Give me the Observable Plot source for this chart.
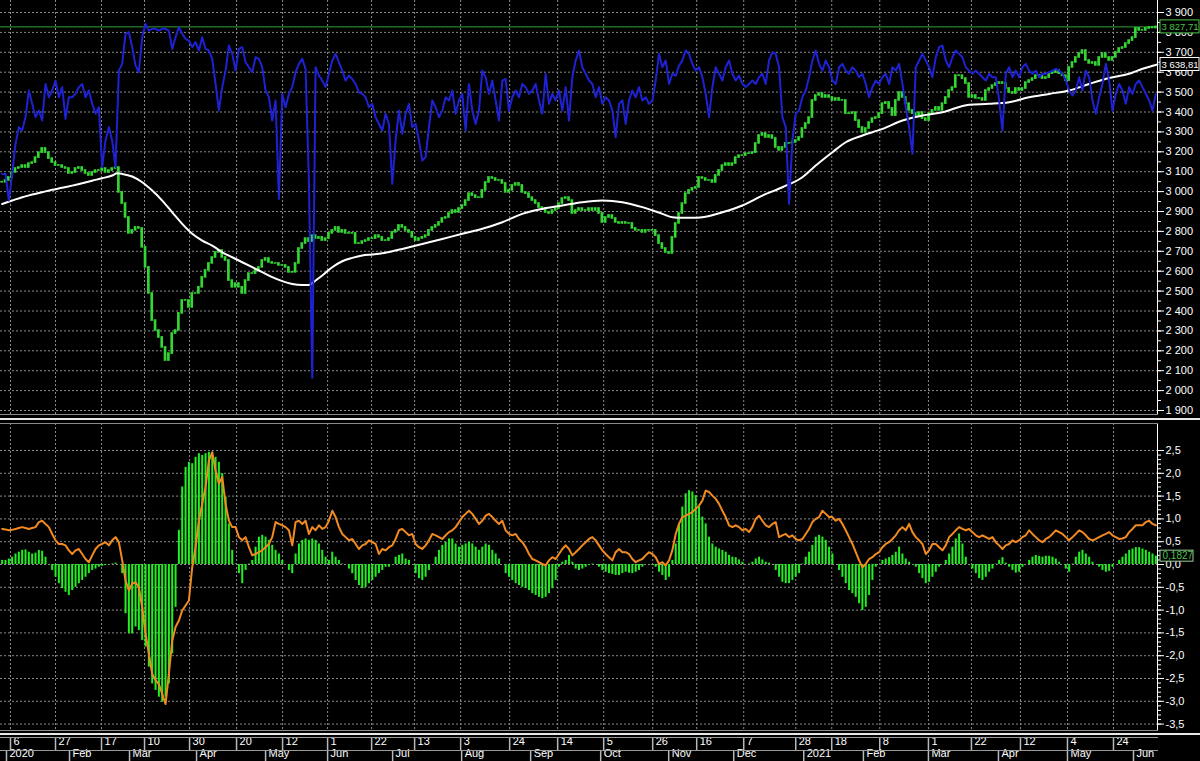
<!DOCTYPE html>
<html>
<head>
<meta charset="utf-8">
<script src="https://cdn.jsdelivr.net/npm/d3@7"></script>
<script src="https://cdn.jsdelivr.net/npm/@observablehq/plot@0.6"></script>
<style>
html,body{margin:0;padding:0;background:#000;}
#chart{position:relative;width:1200px;height:761px;background:#000;overflow:hidden;}
#chart svg{position:absolute;left:0;}
.ln{position:absolute;}
</style>
</head>
<body>
<div id="chart"></div>
<script>
// ---- price (daily closes), one value per bar ----
const closes = [
3047,3056,3071,3096,3116,3121,3131,3121,3141,3146,
3171,3196,3217,3196,3166,3146,3131,3131,3121,3116,
3091,3096,3116,3121,3106,3091,3081,3096,3106,3106,
3116,3096,3106,3116,3121,2996,2940,2870,2790,2805,
2820,2815,2720,2619,2488,2352,2302,2267,2217,2151,
2186,2287,2302,2388,2453,2453,2418,2488,2488,2519,
2569,2604,2639,2669,2694,2704,2669,2654,2553,2519,
2538,2519,2488,2553,2588,2588,2604,2619,2654,2664,
2644,2639,2639,2629,2629,2619,2594,2594,2639,2714,
2739,2764,2749,2779,2764,2770,2754,2764,2790,2805,
2820,2795,2805,2790,2790,2790,2739,2739,2749,2754,
2764,2764,2779,2770,2754,2754,2764,2795,2805,2830,
2820,2805,2795,2770,2754,2764,2770,2779,2805,2820,
2830,2845,2865,2870,2890,2905,2895,2915,2930,2955,
2990,2980,2970,2970,3006,3046,3071,3066,3056,3056,
3041,2996,3006,3031,3041,3031,2996,2990,2970,2955,
2940,2920,2915,2895,2890,2905,2915,2940,2965,2970,
2955,2890,2905,2915,2905,2905,2915,2905,2915,2890,
2845,2870,2880,2865,2845,2840,2845,2840,2840,2815,
2805,2805,2795,2805,2805,2805,2779,2739,2714,2694,
2689,2770,2840,2890,2940,2990,3006,3016,3021,3071,
3066,3056,3056,3046,3081,3106,3131,3141,3131,3141,
3171,3181,3181,3191,3191,3196,3242,3282,3292,3272,
3282,3267,3222,3207,3222,3242,3242,3247,3257,3272,
3317,3342,3372,3458,3483,3493,3473,3483,3473,3458,
3468,3458,3458,3392,3392,3397,3357,3322,3297,3317,
3347,3367,3372,3392,3442,3448,3418,3382,3458,3498,
3473,3442,3408,3392,3382,3397,3367,3357,3392,3408,
3423,3408,3442,3473,3508,3523,3583,3583,3568,3543,
3473,3483,3468,3468,3458,3508,3518,3533,3543,3548,
3543,3518,3498,3493,3518,3508,3518,3548,3558,3568,
3583,3583,3568,3573,3593,3598,3609,3593,3583,3558,
3624,3649,3674,3694,3709,3659,3644,3649,3634,3674,
3694,3674,3659,3674,3699,3719,3724,3744,3759,3774,
3820,3810,3810,3820,3825,3822,3827.71
];

// ---- blue indicator line (price scale) ----
const blueLine = [
3089,3089,2955,3089,3240,3324,3307,3374,3508,3441,
3374,3407,3357,3541,3474,3508,3558,3474,3525,3365,
3474,3474,3491,3525,3541,3474,3508,3441,3391,3424,
3123,3257,3324,3257,3123,3608,3642,3793,3801,3726,
3633,3600,3776,3843,3809,3818,3818,3809,3818,3818,
3809,3717,3776,3826,3793,3767,3759,3726,3751,3709,
3776,3717,3709,3667,3541,3407,3525,3608,3734,3692,
3608,3717,3726,3650,3625,3600,3675,3667,3625,3508,
3474,3357,3458,2963,3491,3424,3491,3525,3600,3642,
3667,3617,3055,2065,3625,3583,3558,3525,3592,3659,
3692,3650,3608,3558,3583,3566,3541,3499,3491,3474,
3424,3441,3374,3340,3307,3391,3340,3039,3257,3407,
3290,3391,3441,3324,3340,3257,3156,3173,3324,3458,
3424,3374,3407,3474,3458,3508,3391,3458,3491,3307,
3541,3407,3340,3407,3608,3575,3491,3558,3458,3357,
3558,3566,3407,3474,3508,3474,3541,3525,3491,3508,
3541,3458,3391,3592,3441,3491,3458,3508,3407,3525,
3357,3575,3659,3709,3625,3592,3558,3541,3474,3525,
3441,3474,3458,3407,3273,3441,3458,3340,3458,3508,
3474,3525,3458,3474,3441,3458,3558,3692,3625,3659,
3541,3592,3583,3633,3659,3709,3692,3642,3608,3625,
3575,3491,3374,3525,3625,3592,3558,3625,3659,3592,
3558,3583,3541,3525,3541,3558,3541,3575,3592,3541,
3659,3700,3692,3625,3374,3324,2938,3257,3391,3407,
3474,3508,3575,3659,3709,3642,3608,3659,3625,3558,
3541,3625,3642,3608,3592,3625,3608,3575,3592,3541,
3474,3525,3558,3541,3575,3592,3541,3625,3608,3642,
3541,3424,3324,3190,3625,3659,3692,3659,3625,3575,
3675,3726,3734,3659,3625,3675,3709,3692,3675,3625,
3608,3592,3608,3592,3575,3558,3592,3575,3575,3458,
3307,3592,3625,3575,3608,3575,3625,3642,3608,3592,
3608,3575,3592,3592,3600,3608,3617,3608,3592,3558,
3508,3483,3508,3575,3508,3608,3575,3458,3391,3474,
3541,3642,3558,3407,3491,3541,3508,3441,3525,3491,
3541,3558,3525,3491,3458,3407,3491
];

// ---- white moving average: bar position and value ----
const maPos = [0,3,6,9,12,15,18,21,24,27,30,33,34.5,36,39,42,45,48,51,54,57,60,63,66,69,72,75,78,81,84,87,90,92,94,96,99,102,105,108,111,114,117,120,
126,132,138,144,150,156,162,168,174,180,186,192,198,201,204,207,210,216,222,228,234,240,
244,249,253,258,264,270,276,282,290,296,302,308,314,320,326,332,338,342,346.5];
const maVal = [2938,2955,2972,2985,2997,3009,3019,3030,3042,3055,3067,3081,3092,3089,3076,3047,3005,2955,2896,2838,2788,2754,2729,2695,2670,2645,2620,2595,2570,2550,2536,2531,2531,2553,2578,2620,2650,2667,2679,2684,2690,2700,2712,
2737,2762,2788,2813,2846,2888,2913,2930,2947,2955,2947,2922,2888,2871,2868,2868,2871,2896,2930,2980,3022,3072,
3131,3198,3248,3282,3315,3357,3382,3399,3437,3441,3449,3474,3491,3508,3541,3571,3592,3617,3638.81];

// ---- oscillator histogram (green) and signal line (orange) ----
const hist = [
0.09,0.09,0.12,0.16,0.23,0.27,0.31,0.32,0.27,0.23,
0.25,0.31,0.29,0.16,0,-0.13,-0.28,-0.42,-0.53,-0.61,
-0.68,-0.57,-0.50,-0.42,-0.35,-0.28,-0.20,-0.13,-0.10,-0.06,
-0.04,-0.02,0,0.01,0.03,0,-0.20,-1.08,-1.52,-1.52,
-1.37,-1.45,-1.67,-1.81,-2.25,-2.62,-2.76,-2.91,-3.02,-2.91,
-2.62,-1.96,-0.94,0.75,1.70,2.13,2.24,2.21,2.35,2.43,
2.39,2.43,2.46,2.46,2.35,2.24,1.99,1.48,0.89,0.31,
0.01,-0.20,-0.42,-0.13,0.01,0.09,0.38,0.60,0.64,0.60,
0.53,0.42,0.31,0.23,0.09,0,-0.13,-0.20,0.23,0.45,
0.53,0.56,0.53,0.56,0.53,0.45,0.31,0.16,0.09,0.27,
0.16,0.09,0.01,0,-0.10,-0.20,-0.35,-0.46,-0.53,-0.50,
-0.42,-0.35,-0.28,-0.20,-0.13,-0.06,-0.06,0,0.16,0.20,
0.23,0.12,0.09,0,-0.20,-0.31,-0.35,-0.28,-0.13,0,
0.16,0.31,0.42,0.49,0.56,0.56,0.45,0.38,0.42,0.45,
0.49,0.45,0.38,0.31,0.38,0.45,0.42,0.31,0.23,0.12,
0,-0.20,-0.28,-0.35,-0.42,-0.46,-0.50,-0.53,-0.57,-0.64,
-0.68,-0.72,-0.75,-0.72,-0.64,-0.53,-0.35,-0.06,0.05,0.09,
0.20,0.05,-0.10,-0.13,-0.10,-0.06,-0.02,0.01,0,-0.06,
-0.13,-0.17,-0.20,-0.22,-0.24,-0.24,-0.20,-0.17,-0.19,-0.20,
-0.17,-0.13,-0.06,0,0,-0.02,-0.06,-0.17,-0.24,-0.35,
-0.28,0.09,0.45,0.89,1.26,1.55,1.62,1.59,1.51,1.26,
1.04,0.89,0.60,0.45,0.38,0.34,0.31,0.27,0.20,0.16,
0.15,0.10,0.05,0,0.01,0.05,0.12,0.16,0.10,0.05,
0.03,0,-0.13,-0.28,-0.39,-0.42,-0.42,-0.35,-0.28,-0.20,
0.01,0.16,0.27,0.42,0.60,0.64,0.60,0.53,0.38,0.23,
0,-0.13,-0.28,-0.42,-0.57,-0.64,-0.72,-0.86,-1.01,-0.94,
-0.68,-0.35,-0.06,0,0.09,0.12,0.15,0.20,0.27,0.38,
0.23,0.12,0.05,0,-0.06,-0.20,-0.31,-0.42,-0.39,-0.28,
-0.17,-0.06,0,0.09,0.23,0.38,0.56,0.67,0.45,0.16,
0,-0.10,-0.20,-0.31,-0.35,-0.28,-0.17,-0.10,0.01,0.09,
0.15,0.03,-0.06,-0.13,-0.19,-0.17,-0.06,0,0.09,0.16,
0.20,0.18,0.16,0.18,0.18,0.16,0.12,0.05,0,-0.10,
-0.17,0.01,0.16,0.27,0.31,0.23,0.16,0.05,0,-0.06,
-0.13,-0.17,-0.15,-0.06,0,0.09,0.16,0.23,0.31,0.34,
0.37,0.37,0.34,0.31,0.27,0.23,0.1827
];
const signal = [
0.78,0.77,0.75,0.76,0.78,0.80,0.82,0.80,0.78,0.80,
0.82,0.93,0.96,0.89,0.82,0.67,0.53,0.45,0.45,0.42,
0.31,0.23,0.31,0.34,0.23,0.12,0.05,0.20,0.34,0.42,
0.45,0.49,0.42,0.53,0.60,0.49,0.09,-0.35,-0.57,-0.42,
-0.39,-0.50,-0.94,-1.52,-1.96,-2.40,-2.54,-2.62,-2.84,-3.06,
-2.40,-1.67,-1.37,-1.23,-1.01,-0.90,-0.79,-0.06,0.38,0.96,
1.33,1.70,2.28,2.46,2.06,1.77,1.92,1.33,0.96,0.82,
0.82,0.60,0.53,0.60,0.38,0.20,0.23,0.27,0.31,0.38,
0.45,0.60,0.93,0.89,0.86,0.82,0.75,0.42,0.93,0.96,
0.89,0.96,0.67,0.82,0.75,0.86,0.78,0.82,0.96,1.18,
1.04,0.82,0.67,0.60,0.53,0.56,0.45,0.34,0.42,0.45,
0.53,0.49,0.45,0.23,0.34,0.31,0.38,0.42,0.56,0.75,
0.78,0.71,0.64,0.67,0.45,0.38,0.34,0.42,0.53,0.67,
0.64,0.60,0.56,0.64,0.71,0.75,0.82,0.93,1.04,1.11,
1.18,1.11,1.00,0.89,0.96,1.07,1.11,1.04,0.96,0.89,
0.96,0.75,0.67,0.64,0.67,0.56,0.49,0.38,0.23,0.12,
0.09,0.05,0.01,-0.02,0.09,0.16,0.12,0.23,0.34,0.42,
0.34,0.20,0.27,0.34,0.42,0.49,0.56,0.60,0.53,0.42,
0.31,0.23,0.16,0.09,0.27,0.34,0.27,0.27,0.23,0.12,
0.05,0.09,0.12,0.20,0.27,0.23,0.16,0.01,0.05,-0.02,
0.09,0.31,0.67,0.89,1.04,1.07,1.11,1.15,1.22,1.29,
1.40,1.62,1.59,1.51,1.44,1.33,1.18,1.04,0.86,0.82,
0.86,0.82,0.75,0.78,0.71,0.82,1.00,1.07,0.96,0.86,
0.82,0.89,0.93,0.60,0.64,0.67,0.60,0.64,0.56,0.53,
0.56,0.67,0.78,0.93,1.00,1.04,1.18,1.11,1.04,1.04,
0.96,1.00,0.89,0.75,0.60,0.45,0.27,0.09,-0.06,0.01,
0.12,0.16,0.23,0.27,0.38,0.45,0.49,0.56,0.64,0.75,
0.82,0.75,0.89,0.71,0.60,0.53,0.45,0.23,0.31,0.45,
0.45,0.38,0.31,0.42,0.60,0.67,0.75,0.82,0.78,0.75,
0.78,0.71,0.64,0.60,0.64,0.60,0.56,0.60,0.49,0.42,
0.34,0.42,0.45,0.53,0.49,0.53,0.60,0.64,0.75,0.67,
0.60,0.53,0.49,0.56,0.60,0.67,0.75,0.71,0.67,0.60,
0.53,0.60,0.67,0.75,0.71,0.64,0.56,0.53,0.56,0.60,
0.64,0.67,0.71,0.64,0.60,0.56,0.57,0.60,0.71,0.78,
0.86,0.86,0.86,0.93,0.96,0.89,0.86
];

// ---- axis ticks and time labels ----
const priceTicks = [1900,2000,2100,2200,2300,2400,2500,2600,2700,2800,2900,3000,3100,3200,3300,3400,3500,3600,3700,3800,3900];
const oscTicks = [-3.5,-3,-2.5,-2,-1.5,-1,-0.5,0,0.5,1,1.5,2,2.5];
const dayPos = [3.0,16.5,30.3,43.2,56.7,70.8,84.6,98.1,111.3,124.2,138.0,152.7,167.1,180.9,195.6,208.8,222.9,238.5,249.3,263.7,278.3,291.2,305.9,320.0,333.8];
const dayLabels = ["6","27","17","10","30","20","12","1","22","13","3","24","14","5","26","16","7","28","18","8","1","22","12","4","24"];
const monthPos = [1.8,20.7,38.7,58.8,79.5,98.1,117.6,138.3,159.0,180.0,200.4,219.9,240.9,258.8,278.3,299.3,320.0,339.8];
const monthLabels = ["2020","Feb","Mar","Apr","May","Jun","Jul","Aug","Sep","Oct","Nov","Dec","2021","Feb","Mar","Apr","May","Jun"];
const lastPrice = 3827.71;
const lastMA = 3638.81;
const lastHist = 0.1827;

(function () {
const N = closes.length;
const bars = closes.map((c, i) => ({i, open: i ? closes[i - 1] : c, close: c, ind: blueLine[i], osc: hist[i], sig: signal[i]}));
const maData = maPos.map((p, k) => ({p, v: maVal[k]}));

const FONT = "Liberation Sans, Arial, sans-serif";
const GRID = {stroke: "#8a8a8a", strokeOpacity: 1, strokeDasharray: "2,2"};
const CANDLE = "#33d633", HIST = "#22ee22", ORANGE = "#f28a22", BLUE = "#1e22d2", BOXG = "#49c449";
const priceFmt = d => d3.format(",")(d).replace(/,/g, " ");
const priceFmt2 = d => d3.format(",.2f")(d).replace(/,/g, " ").replace(".", ",");
const oscFmt = d => d.toFixed(1).replace(".", ",");

const xScale = {domain: [0, N], range: [0, 1157], axis: null};
const minorPrice = d3.range(1900, 3901, 50);
const minorOsc = d3.range(-35, 26, 1).map(d => d / 10);

const topPlot = Plot.plot({
  width: 1200, height: 416,
  marginTop: 0, marginBottom: 2, marginLeft: 0, marginRight: 43,
  style: {background: "#000", color: "#fff", fontFamily: FONT, fontSize: "11px", overflow: "visible"},
  x: xScale,
  y: {domain: [1900, 3900], range: [410, 12], axis: null},
  marks: [
    Plot.gridY(priceTicks, GRID),
    Plot.gridX(dayPos, GRID),
    Plot.ruleY([lastPrice], {stroke: "#33a033", strokeWidth: 1}),
    Plot.rect(bars, {x1: d => d.i + 0.1, x2: d => d.i + 0.9, y1: "open", y2: "close", fill: CANDLE, insetTop: -0.8, insetBottom: -0.8}),
    Plot.line(maData, {x: d => d.p + 0.5, y: "v", stroke: "#fff", strokeWidth: 2, curve: "monotone-x"}),
    Plot.line(bars, {x: d => d.i + 0.5, y: "ind", stroke: BLUE, strokeWidth: 2}),
    Plot.ruleX([N], {stroke: "#fff"}),
    Plot.axisY(minorPrice, {anchor: "right", tickSize: 3, tickFormat: () => "", color: "#fff", label: null}),
    Plot.axisY(priceTicks, {anchor: "right", tickSize: 6, tickPadding: 2, tickFormat: priceFmt, color: "#fff", label: null, fontSize: 11}),
    Plot.rect([lastPrice], {y1: d => d, y2: d => d, insetTop: -6.5, insetBottom: -6.5, insetLeft: 1160, insetRight: -42, fill: "#000", stroke: BOXG}),
    Plot.text([lastPrice], {y: d => d, text: priceFmt2, frameAnchor: "right", dx: 4, textAnchor: "start", fill: BOXG, fontSize: 9.5}),
    Plot.rect([lastMA], {y1: d => d, y2: d => d, insetTop: -6.5, insetBottom: -6.5, insetLeft: 1160, insetRight: -42, fill: "#000", stroke: "#fff"}),
    Plot.text([lastMA], {y: d => d, text: priceFmt2, frameAnchor: "right", dx: 4, textAnchor: "start", fill: "#fff", fontSize: 9.5})
  ]
});
topPlot.style.top = "0px";

const bottomPlot = Plot.plot({
  width: 1200, height: 341,
  marginTop: 3, marginBottom: 31, marginLeft: 0, marginRight: 43,
  style: {background: "#000", color: "#fff", fontFamily: FONT, fontSize: "11px", overflow: "visible"},
  x: xScale,
  y: {domain: [-3.5, 2.5], range: [303.6, 30], axis: null},
  marks: [
    Plot.gridY(oscTicks, GRID),
    Plot.gridX(dayPos, GRID),
    Plot.ruleX(bars, {x: d => d.i + 0.5, y1: 0, y2: "osc", stroke: HIST, strokeWidth: 2}),
    Plot.line(bars, {x: d => d.i + 0.5, y: "sig", stroke: ORANGE, strokeWidth: 2}),
    Plot.ruleX([N], {stroke: "#fff"}),
    Plot.axisY(minorOsc, {anchor: "right", tickSize: 3, tickFormat: () => "", color: "#fff", label: null}),
    Plot.axisY(oscTicks, {anchor: "right", tickSize: 6, tickPadding: 2, tickFormat: oscFmt, color: "#fff", label: null, fontSize: 11}),
    Plot.rect([lastHist], {y1: d => d, y2: d => d, insetTop: -5.5, insetBottom: -5.5, insetLeft: 1160, insetRight: -36, fill: "#000", stroke: "#9c9"}),
    Plot.text([lastHist], {y: d => d, text: d => String(d).replace(".", ","), frameAnchor: "right", dx: 5, textAnchor: "start", fill: BOXG, fontSize: 10}),
    Plot.ruleX(dayPos, {stroke: "#b8b8b8", strokeWidth: 1.5, insetTop: 315, insetBottom: -20}),
    Plot.text(dayPos, {x: d => d, text: (d, k) => dayLabels[k], frameAnchor: "bottom", dy: 14.5, dx: 3, textAnchor: "start", fill: "#fff", fontSize: 11}),
    Plot.ruleX(monthPos, {stroke: "#b8b8b8", strokeWidth: 1.5, insetTop: 328, insetBottom: -31}),
    Plot.text(monthPos, {x: d => d, text: (d, k) => monthLabels[k], frameAnchor: "bottom", dy: 26, dx: 3, textAnchor: "start", fill: "#fff", fontSize: 11})
  ]
});
bottomPlot.style.top = "420px";

const chart = document.getElementById("chart");
chart.appendChild(topPlot);
chart.appendChild(bottomPlot);

function hline(y, x, w, h, c) {
  const d = document.createElement("div");
  d.className = "ln";
  Object.assign(d.style, {top: y + "px", left: x + "px", width: w + "px", height: h + "px", background: c});
  chart.appendChild(d);
}
hline(414, 0, 1158, 1, "#8a8a8a");
hline(418, 0, 1200, 2, "#e8e8e8");
hline(423, 0, 1158, 1, "#8a8a8a");
hline(730, 0, 1158, 1, "#8a8a8a");
hline(733, 0, 1200, 2, "#e8e8e8");
hline(737, 0, 1158, 1, "#9a9a9a");
hline(750, 0, 1158, 1, "#9a9a9a");
})();
</script>
</body>
</html>
